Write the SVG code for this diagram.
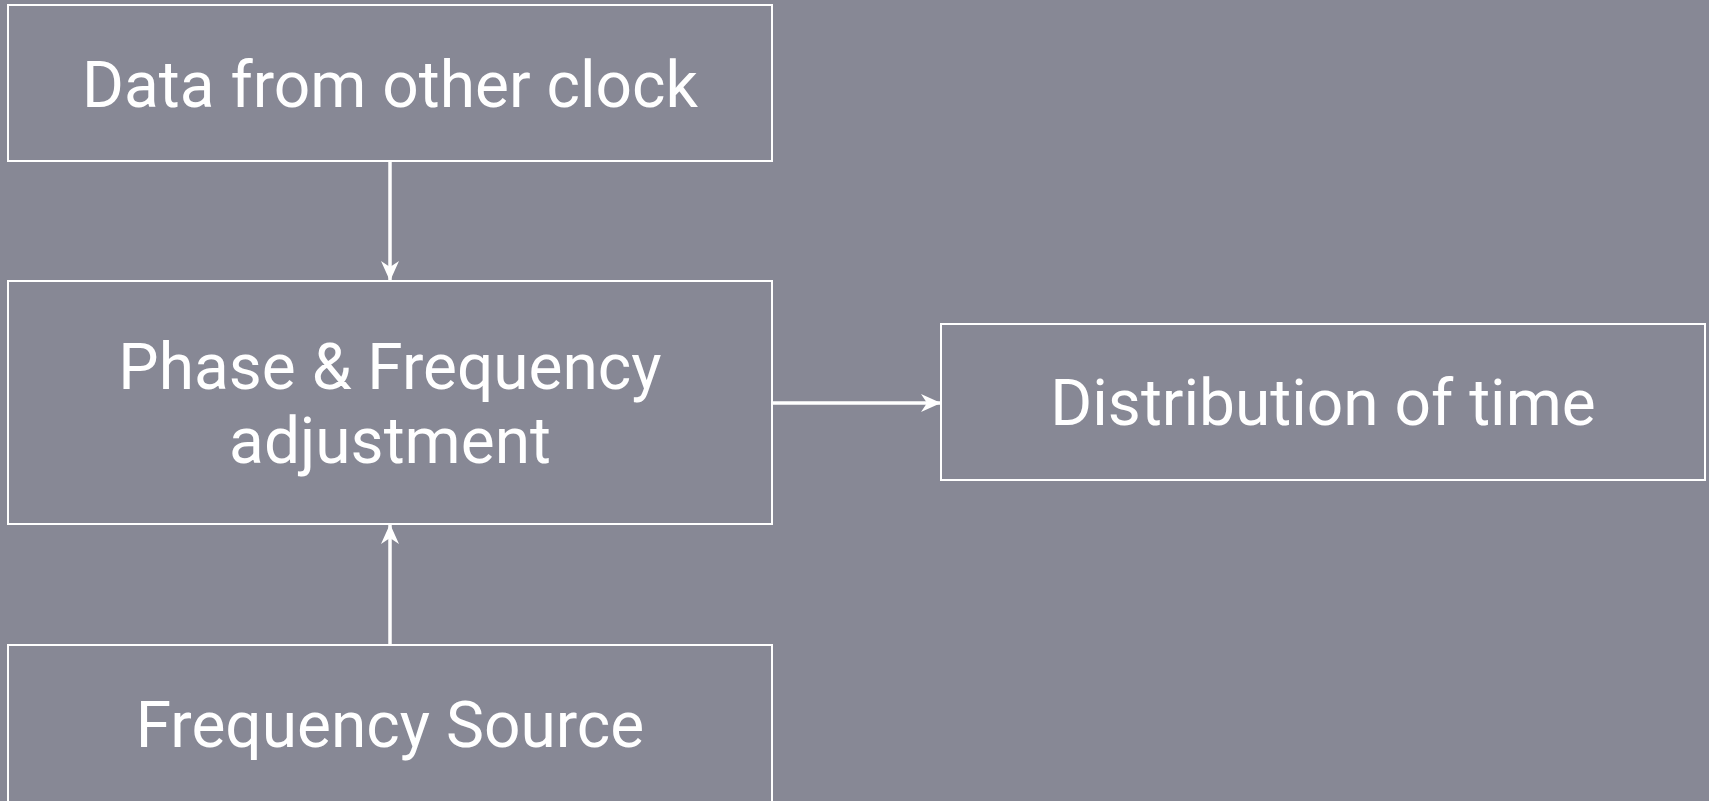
<svg xmlns="http://www.w3.org/2000/svg" width="1709" height="801" viewBox="0 0 1709 801">
<style>
.box{fill:none;stroke:#fff;stroke-width:2}
.lbl{font-family:Roboto,"Liberation Sans",sans-serif;font-size:64px;fill:#fff;text-anchor:middle}
.conn{stroke:#fff;stroke-width:3.5;fill:none}
</style>
<defs>
<marker id="ah" viewBox="0 0 20 20" refX="19" refY="10" markerWidth="20" markerHeight="20" markerUnits="userSpaceOnUse" orient="auto">
<path d="M0,1 L20,10 L0,19 L6,10 Z" fill="#fff"/>
</marker>
</defs>
<rect width="1709" height="801" fill="#878895"/>
<g id="connectors">
<line class="conn" x1="390" y1="161" x2="390" y2="280" marker-end="url(#ah)"/>
<line class="conn" x1="390" y1="645" x2="390" y2="525" marker-end="url(#ah)"/>
<line class="conn" x1="772" y1="403" x2="940" y2="403" marker-end="url(#ah)"/>
</g>
<g id="data">
<rect class="box" x="8" y="5" width="764" height="156"/>
<text class="lbl" x="390" y="107">Data from other clock</text>
</g>
<g id="phase">
<rect class="box" x="8" y="281" width="764" height="243"/>
<text class="lbl" x="390" y="389">Phase &amp; Frequency</text>
<text class="lbl" x="390" y="463">adjustment</text>
</g>
<g id="source">
<rect class="box" x="8" y="645" width="764" height="157"/>
<text class="lbl" x="390" y="747">Frequency Source</text>
</g>
<g id="dist">
<rect class="box" x="941" y="324" width="764" height="156"/>
<text class="lbl" x="1323" y="425">Distribution of time</text>
</g>
</svg>
